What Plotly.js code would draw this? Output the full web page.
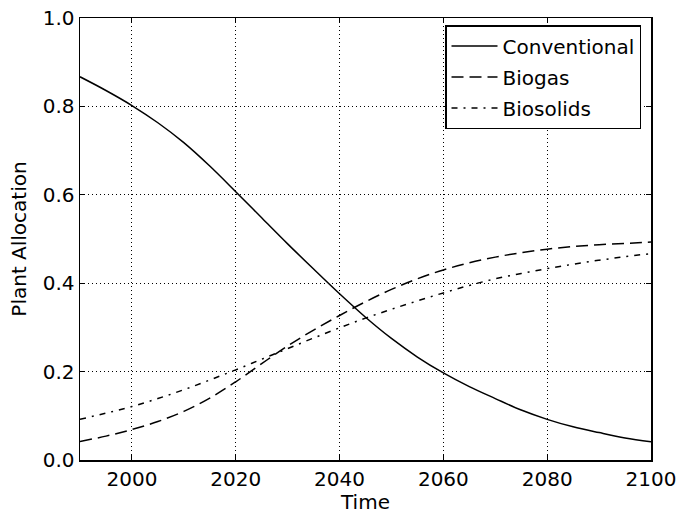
<!DOCTYPE html>
<html>
<head>
<meta charset="utf-8">
<script src="https://cdn.plot.ly/plotly-3.0.1.min.js"></script>
<style>html,body{margin:0;padding:0;background:#fff;}#chart{width:679px;height:514px;}</style>
</head>
<body>
<div id="chart"></div>
<script>
var years = [1990,1995,2000,2005,2010,2015,2020,2025,2030,2035,2040,2045,2050,2055,2060,2065,2070,2075,2080,2085,2090,2095,2100];
var conventional = [0.867,0.836,0.802,0.763,0.718,0.665,0.607,0.548,0.489,0.432,0.376,0.323,0.275,0.233,0.197,0.166,0.139,0.113,0.092,0.075,0.062,0.050,0.041];
var biogas = [0.042,0.054,0.069,0.087,0.110,0.140,0.177,0.218,0.258,0.294,0.327,0.358,0.386,0.410,0.430,0.446,0.459,0.469,0.477,0.483,0.487,0.490,0.493];
var biosolids = [0.092,0.106,0.121,0.139,0.159,0.181,0.204,0.228,0.252,0.276,0.299,0.321,0.341,0.360,0.378,0.395,0.410,0.422,0.433,0.443,0.452,0.460,0.467];
var seriesNames = ['Conventional','Biogas','Biosolids'];
var xTicks = [2000,2020,2040,2060,2080,2100];
var yTicks = [0.0,0.2,0.4,0.6,0.8,1.0];

var font = 'DejaVu Sans, sans-serif';
var traces = [
  {x: years, y: conventional, name: seriesNames[0], legendgroup: 'a', mode: 'lines', line: {color: '#000', width: 1.5, shape: 'spline', smoothing: 1}},
  {x: years, y: biogas, name: seriesNames[1], legendgroup: 'b', mode: 'lines', line: {color: '#000', width: 1.5, dash: '12px,6px', shape: 'spline', smoothing: 1}},
  {x: years, y: biosolids, name: seriesNames[2], legendgroup: 'c', mode: 'lines', line: {color: '#000', width: 1.5, dash: '6px,6px,2px,6px', shape: 'spline', smoothing: 1}}
];
var axisCommon = {
  showline: true, linecolor: '#000', linewidth: 1.5, mirror: 'allticks',
  ticks: 'inside', ticklen: 5, tickwidth: 1, tickcolor: '#000',
  showgrid: true, gridcolor: '#000', gridwidth: 1, griddash: '1px,3px',
  zeroline: false, tickfont: {family: font, size: 20, color: '#000'}
};
var layout = {
  width: 679, height: 514,
  margin: {l: 80, r: 28, t: 18, b: 54},
  paper_bgcolor: '#fff', plot_bgcolor: '#fff',
  showlegend: true,
  hovermode: false,
  xaxis: Object.assign({}, axisCommon, {
    range: [1990, 2100], tickvals: xTicks, ticktext: xTicks.map(String),
    title: {text: 'Time', font: {family: font, size: 20, color: '#000'}, standoff: 2}
  }),
  yaxis: Object.assign({}, axisCommon, {
    range: [0, 1], tickvals: yTicks, ticktext: yTicks.map(function(v){return v.toFixed(1);}),
    title: {text: 'Plant Allocation', font: {family: font, size: 20, color: '#000'}, standoff: 10}
  }),
  legend: {
    x: 0.9825, xanchor: 'right', y: 0.984, yanchor: 'top',
    bgcolor: '#fff', bordercolor: '#000', borderwidth: 1.5,
    font: {family: font, size: 20, color: '#000'},
    itemwidth: 46, tracegroupgap: 2,
    entrywidth: 200, entrywidthmode: 'pixels'
  }
};
Plotly.newPlot('chart', traces, layout, {staticPlot: true, displayModeBar: false});
</script>
</body>
</html>
